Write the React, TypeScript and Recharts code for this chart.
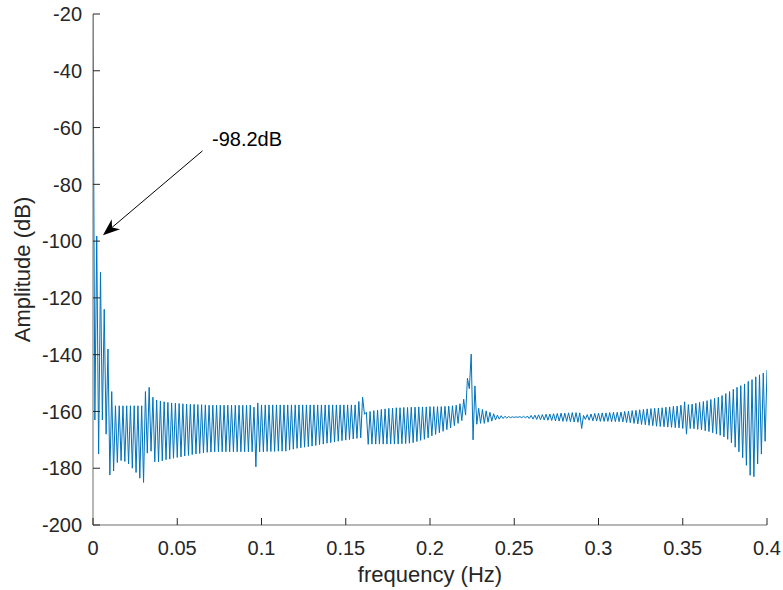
import React from 'react';
import { LineChart, Line, XAxis, YAxis, ReferenceLine } from 'recharts';

// frequency axis (Hz) and amplitude axis (dB)
const freqTicks = [0, 0.05, 0.1, 0.15, 0.2, 0.25, 0.3, 0.35, 0.4];
const ampTicks = [-200, -180, -160, -140, -120, -100, -80, -60, -40, -20];

// spectrum bins are evenly spaced; even bins are the upper swing, odd bins the lower swing
const binWidth = 0.4 / 360;

const upperSwing = [
  -20, -98.2, -111, -124, -138, -153, -158, -158, -158, -158,
  -158, -158, -158, -158, -153, -151.5, -155, -156, -156.3, -156.6,
  -156.8, -157, -157.1, -157.2, -157.3, -157.4, -157.5, -157.5, -157.6, -157.6,
  -157.7, -157.8, -157.8, -157.8, -157.8, -157.8, -157.8, -157.8, -157.8, -157.8,
  -157.8, -157.8, -157.8, -158.5, -157, -157.7, -157.7, -157.7, -157.7, -157.7,
  -157.7, -157.7, -157.7, -157.7, -157.7, -157.7, -157.7, -157.7, -157.7, -157.7,
  -157.7, -157.7, -157.7, -157.7, -157.7, -157.7, -157.7, -157.7, -157.7, -157.7,
  -157.7, -156.5, -155, -160.3, -160, -159.7, -159.5, -159.3, -159.1, -158.9,
  -158.8, -158.7, -158.7, -158.6, -158.6, -158.5, -158.5, -158.4, -158.4, -158.4,
  -158.3, -158.3, -158.3, -158.3, -158.2, -158.1, -158, -157.8, -157.3, -155.7,
  -148.3, -139.8, -151, -158.9, -159.3, -159.8, -160.3, -160.8, -161.3, -161.5,
  -161.7, -161.8, -161.9, -161.9, -161.8, -161.7, -161.6, -161.4, -161.3, -161.2,
  -161.1, -161, -160.9, -160.8, -160.7, -160.6, -160.6, -160.5, -160.4, -160.4,
  -160.5, -161.4, -161.1, -160.9, -160.7, -160.6, -160.5, -160.5, -160.4, -160.3,
  -160.3, -160.2, -160, -159.9, -159.7, -159.6, -159.4, -159.3, -159.1, -159,
  -158.9, -158.8, -158.7, -158.5, -158.4, -158.2, -158.1, -157.8, -156.6, -157.6,
  -157.4, -157.1, -156.8, -156.5, -156.2, -155.8, -155.4, -155, -154.4, -153.7,
  -153, -152.2, -151.5, -150.9, -150.3, -149.4, -148.8, -147.8, -147.1, -146.5,
  -145.4,
];

const lowerSwing = [
  -163, -175, -163, -168, -182.4, -181, -178, -177.3, -177.6, -178.5,
  -180, -181.5, -183.5, -185, -174.7, -174, -177.7, -177.8, -177.4, -177,
  -176.8, -176.5, -176.2, -176, -175.7, -175.5, -175.2, -175, -174.8, -174.6,
  -174.4, -174.3, -174.2, -174.2, -174.2, -174.2, -174.2, -174.2, -174.2, -174.2,
  -174.2, -174.2, -174.2, -179.5, -174.2, -174.2, -174.1, -174.1, -174.1, -174,
  -174, -174, -173.6, -173.3, -173, -172.8, -172.6, -172.4, -172.2, -172,
  -171.7, -171.5, -171.2, -171, -170.8, -170.5, -170.3, -170.1, -169.9, -169.7,
  -169.5, -169.3, -161, -171.6, -171.5, -171.5, -171.5, -171.5, -171.5, -171.5,
  -171.5, -171.5, -171.4, -171.3, -171.2, -171, -170.6, -170.2, -169.8, -169.3,
  -168.6, -168.1, -167.5, -167, -166.4, -165.8, -165, -164.2, -163.2, -161.3,
  -152, -170, -164.5, -164.2, -164.2, -163.8, -163.4, -163, -162.7, -162.5,
  -162.3, -162.2, -162.1, -162.1, -162.2, -162.3, -162.5, -162.7, -162.8, -162.9,
  -163, -163.1, -163.2, -163.3, -163.4, -163.5, -163.5, -163.6, -163.7, -163.8,
  -166, -162.8, -163.1, -163.3, -163.4, -163.5, -163.5, -163.5, -163.6, -163.6,
  -163.6, -163.7, -163.9, -164, -164.2, -164.4, -164.6, -164.7, -164.9, -165,
  -165.2, -165.3, -165.4, -165.5, -165.6, -165.7, -165.8, -166, -168, -166,
  -166.1, -166.3, -166.5, -166.8, -167.1, -167.5, -168, -168.4, -169, -169.8,
  -171, -172.6, -174.2, -176.3, -179, -182.5, -183, -178.5, -175, -170.5,
];

// annotation: arrow from the label down to the second peak
const noteText = '-98.2dB';
const noteTail = { x: 0.065, y: -68.2 };
const noteTip = { x: 0.0059, y: -97.9 };

const spectrum: { freq: number; amp: number }[] = [];
for (let i = 0; i < upperSwing.length + lowerSwing.length; i++) {
  spectrum.push({
    freq: i * binWidth,
    amp: i % 2 === 0 ? upperSwing[i / 2] : lowerSwing[(i - 1) / 2],
  });
}

const FONT = '"Liberation Sans", Arial, Helvetica, sans-serif';
const INK = '#262626';
const BOX = '#6e6e6e';
const TICK_LEN = 7;

function BottomTick(props: any) {
  const { x, y, payload } = props;
  const axisY = y - 16;
  return (
    <g>
      <line x1={x} y1={axisY} x2={x} y2={axisY - TICK_LEN} stroke={INK} />
      <text x={x} y={y} dy="0.71em" textAnchor="middle" fill={INK} fontSize={20} fontFamily={FONT}>
        {String(payload.value)}
      </text>
    </g>
  );
}

function LeftTick(props: any) {
  const { x, y, payload } = props;
  const axisX = x + 11;
  return (
    <g>
      <line x1={axisX} y1={y} x2={axisX + TICK_LEN} y2={y} stroke={INK} />
      <text x={x} y={y} dy="0.36em" textAnchor="end" fill={INK} fontSize={20} fontFamily={FONT}>
        {String(payload.value)}
      </text>
    </g>
  );
}

function TopTick(props: any) {
  const { x, y } = props;
  return <line x1={x} y1={y} x2={x} y2={y + TICK_LEN} stroke={INK} />;
}

function RightTick(props: any) {
  const { x, y } = props;
  return <line x1={x - TICK_LEN} y1={y} x2={x} y2={y} stroke={INK} />;
}

function ArrowNote(props: any) {
  const { x1, y1, x2, y2 } = props;
  const dx = x2 - x1;
  const dy = y2 - y1;
  const len = Math.hypot(dx, dy) || 1;
  const ux = dx / len;
  const uy = dy / len;
  const nx = -uy;
  const ny = ux;
  const headLen = 17;
  const headHalf = 6.5;
  const bx = x2 - ux * headLen;
  const by = y2 - uy * headLen;
  const notchX = x2 - ux * headLen * 0.7;
  const notchY = y2 - uy * headLen * 0.7;
  const pts = [
    `${x2},${y2}`,
    `${bx + nx * headHalf},${by + ny * headHalf}`,
    `${notchX},${notchY}`,
    `${bx - nx * headHalf},${by - ny * headHalf}`,
  ].join(' ');
  return (
    <g>
      <line x1={x1} y1={y1} x2={notchX} y2={notchY} stroke="#000" strokeWidth={1} />
      <polygon points={pts} fill="#000" />
      <text x={x1 + 9.5} y={y1 - 5} fill="#000" fontSize={20} fontFamily={FONT}>
        {noteText}
      </text>
    </g>
  );
}

function XTitle(props: any) {
  const { viewBox } = props;
  return (
    <text x={viewBox.x + viewBox.width / 2} y={viewBox.y + 57} textAnchor="middle" fill={INK} fontSize={22} fontFamily={FONT}>
      frequency (Hz)
    </text>
  );
}

function YTitle(props: any) {
  const { viewBox } = props;
  const cx = viewBox.x + 29.5;
  const cy = viewBox.y + viewBox.height / 2;
  return (
    <text x={cx} y={cy} transform={`rotate(-90, ${cx}, ${cy})`} textAnchor="middle" fill={INK} fontSize={22} fontFamily={FONT}>
      Amplitude (dB)
    </text>
  );
}

export default function App() {
  return (
    <div style={{ position: 'absolute', left: 0, top: 0, background: '#fff' }}>
      <LineChart width={783} height={590} data={spectrum} margin={{ top: 14, right: 16, bottom: 0, left: 0 }}>
        <XAxis
          dataKey="freq"
          type="number"
          domain={[0, 0.4]}
          ticks={freqTicks}
          allowDataOverflow
          height={65}
          tickSize={0}
          tickMargin={16}
          tick={BottomTick}
          axisLine={{ stroke: BOX }}
          label={{ content: XTitle }}
        />
        <XAxis
          xAxisId="top"
          orientation="top"
          type="number"
          domain={[0, 0.4]}
          ticks={freqTicks}
          allowDataOverflow
          height={0}
          tickSize={0}
          tickMargin={0}
          tick={TopTick}
          axisLine={{ stroke: BOX }}
        />
        <YAxis
          type="number"
          domain={[-200, -20]}
          ticks={ampTicks}
          allowDataOverflow
          width={93}
          tickSize={0}
          tickMargin={11}
          tick={LeftTick}
          axisLine={{ stroke: BOX }}
          label={{ content: YTitle }}
        />
        <YAxis
          yAxisId="right"
          orientation="right"
          type="number"
          domain={[-200, -20]}
          ticks={ampTicks}
          allowDataOverflow
          width={0}
          tickSize={0}
          tickMargin={0}
          tick={RightTick}
          axisLine={{ stroke: BOX }}
        />
        <Line
          type="linear"
          dataKey="amp"
          stroke="#0072BD"
          strokeWidth={1}
          dot={false}
          activeDot={false}
          isAnimationActive={false}
        />
        <ReferenceLine segment={[noteTail, noteTip]} ifOverflow="visible" shape={ArrowNote} />
      </LineChart>
    </div>
  );
}
